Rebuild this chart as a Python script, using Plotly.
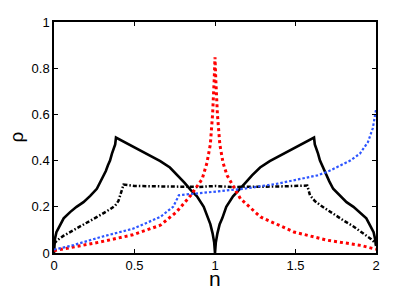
#importing the libraries
import plotly.graph_objs as go

#values
# black solid curve
n_solid = [0, 0.006, 0.015, 0.037, 0.06, 0.1, 0.14, 0.183, 0.225, 0.266, 0.29, 0.307,
           0.322, 0.335, 0.348, 0.36, 0.372, 0.38, 0.385,
           0.42, 0.45, 0.51, 0.56, 0.6, 0.66, 0.72, 0.77, 0.81, 0.85, 0.888, 0.93,
           0.955, 0.971, 0.985, 0.995, 1.0,
           1.005, 1.015, 1.029, 1.045, 1.07, 1.112, 1.15, 1.19, 1.23, 1.28, 1.34, 1.4,
           1.44, 1.49, 1.55, 1.58, 1.615,
           1.62, 1.628, 1.64, 1.652, 1.665, 1.678, 1.693, 1.71, 1.734, 1.775, 1.817,
           1.86, 1.9, 1.94, 1.963, 1.985, 1.994, 2.0]
rho_solid = [0, 0.062, 0.09, 0.12, 0.15, 0.177, 0.2, 0.22, 0.247, 0.278, 0.31, 0.336,
             0.355, 0.38, 0.40, 0.43, 0.455, 0.47, 0.5,
             0.487, 0.475, 0.453, 0.436, 0.42, 0.398, 0.37, 0.336, 0.305, 0.272, 0.245, 0.2,
             0.15, 0.125, 0.085, 0.045, 0.0,
             0.045, 0.085, 0.125, 0.15, 0.2, 0.245, 0.272, 0.305, 0.336, 0.37, 0.398, 0.42,
             0.436, 0.453, 0.475, 0.487, 0.5,
             0.47, 0.455, 0.43, 0.40, 0.38, 0.355, 0.336, 0.31, 0.278, 0.247, 0.22,
             0.2, 0.177, 0.15, 0.12, 0.09, 0.062, 0.03]

# black dash-dot curve
n_dashdot = [0, 0.02, 0.06, 0.1, 0.16, 0.224, 0.29, 0.349, 0.38, 0.4, 0.415, 0.432,
             0.5, 0.6, 0.7, 0.8, 0.9, 1.0, 1.1, 1.2, 1.3, 1.4, 1.5, 1.573,
             1.59, 1.62, 1.656, 1.72, 1.8, 1.86, 1.926, 1.97, 2.0]
rho_dashdot = [0.04, 0.055, 0.075, 0.09, 0.115, 0.14, 0.165, 0.19, 0.205, 0.225, 0.26, 0.296,
               0.29, 0.288, 0.289, 0.287, 0.286, 0.29, 0.286, 0.288, 0.287, 0.288, 0.289, 0.292,
               0.25, 0.225, 0.206, 0.175, 0.14, 0.115, 0.084, 0.06, 0.04]

# red dotted curve
n_red = [0, 0.1, 0.29, 0.49, 0.66, 0.76, 0.85, 0.92, 0.95, 0.971, 0.985, 0.995, 1.0,
         1.005, 1.015, 1.03, 1.05, 1.075, 1.158, 1.283, 1.49, 1.7, 1.905, 2.0]
rho_red = [0.01, 0.022, 0.048, 0.079, 0.12, 0.177, 0.25, 0.32, 0.39, 0.47, 0.6, 0.75, 0.847,
           0.75, 0.6, 0.47, 0.39, 0.336, 0.235, 0.156, 0.091, 0.055, 0.033, 0.016]

# blue dotted curve
n_blue = [0, 0.1, 0.29, 0.49, 0.66, 0.74, 0.765, 0.775, 0.8, 0.9, 1.03, 1.18,
          1.387, 1.636, 1.7, 1.84, 1.9, 1.95, 1.98, 2.0]
rho_blue = [0.015, 0.03, 0.069, 0.105, 0.156, 0.2, 0.235, 0.25, 0.252, 0.258, 0.267,
            0.278, 0.3, 0.336, 0.352, 0.4, 0.43, 0.48, 0.54, 0.62]

x_ticks = [0, 0.5, 1, 1.5, 2]
x_labels = ['0', '0.5', '1', '1.5', '2']
y_ticks = [0, 0.2, 0.4, 0.6, 0.8, 1]
y_labels = ['0', '0.2', '0.4', '0.6', '0.8', '1']

#Plot the data
data = [
    go.Scatter(x=n_solid, y=rho_solid, mode='lines',
               line=dict(color='black', width=2.6)),
    go.Scatter(x=n_dashdot, y=rho_dashdot, mode='lines',
               line=dict(color='black', width=2.5, dash='4px,2px,1.5px,2px')),
    go.Scatter(x=n_red, y=rho_red, mode='lines',
               line=dict(color='rgb(255,0,0)', width=3, dash='dot')),
    go.Scatter(x=n_blue, y=rho_blue, mode='lines',
               line=dict(color='rgb(45,85,255)', width=2.2, dash='2.5px,2px')),
]

font_name = 'Liberation Sans, Arial'
axis_style = dict(showgrid=False, zeroline=False, showline=True, linecolor='black',
                  linewidth=1.5, mirror='ticks', ticks='inside', ticklen=4,
                  tickwidth=1, tickcolor='black', automargin=False,
                  tickfont=dict(family=font_name, size=13, color='black'))

##defining layout
# the page body adds an 8px offset, so margins and size are reduced by 8
layout = go.Layout(
    width=407, height=282,
    margin=dict(l=46, r=39, t=14, b=37),
    paper_bgcolor='white', plot_bgcolor='white',
    showlegend=False,
    xaxis=dict(range=[0, 2], tickvals=x_ticks, ticktext=x_labels, **axis_style),
    yaxis=dict(range=[0, 1], tickvals=y_ticks, ticktext=y_labels, **axis_style),
    annotations=[
        dict(text='n', xref='paper', yref='paper', x=0.5, y=0, yanchor='middle',
             yshift=-25.5, showarrow=False,
             font=dict(family=font_name, size=21, color='black')),
        dict(text='ρ', xref='paper', yref='paper', x=0, y=0.5, xanchor='center',
             xshift=-38, textangle=-90, showarrow=False,
             font=dict(family=font_name, size=19, color='black')),
    ],
)
fig = go.Figure(data=data, layout=layout)
fig.write_html("out.html")
